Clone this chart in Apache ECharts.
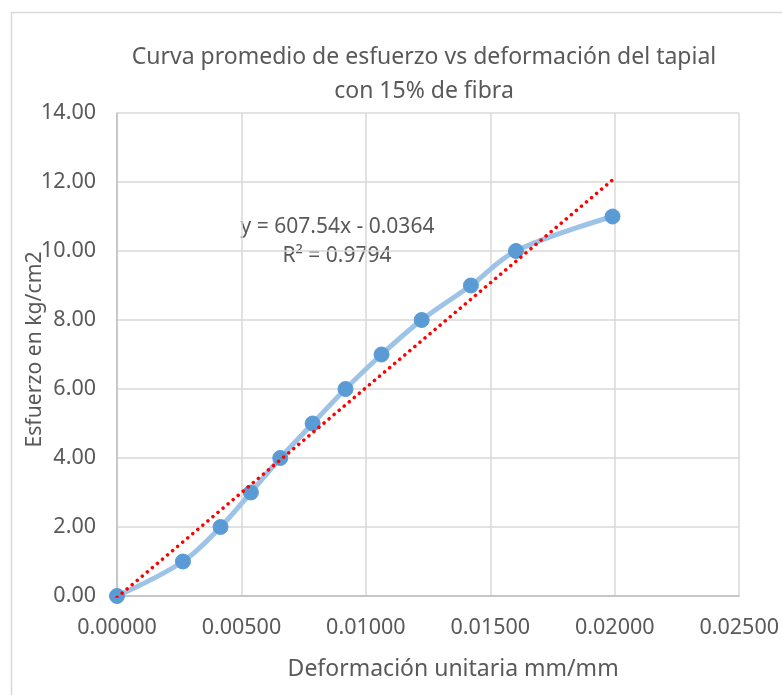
<!DOCTYPE html>
<html>
<head>
<meta charset="utf-8">
<script src="https://cdn.jsdelivr.net/npm/echarts@6/dist/echarts.min.js"></script>
<style>html,body{margin:0;padding:0;background:#fff;}#c{width:782px;height:695px;}</style>
</head>
<body>
<div id="c"></div>
<script>
// Data
var strainX = [0, 0.00265, 0.00416, 0.00538, 0.00656, 0.00786, 0.00918, 0.01063, 0.01224, 0.01422, 0.01603, 0.01991];
var stressY = [0, 1, 2, 3, 4, 5, 6, 7, 8, 9, 10, 11];
var trendX = [0, 0.01991];
var trendY = [-0.04, 12.06];
var titleLines = ['Curva promedio de esfuerzo vs deformación del tapial', 'con 15% de fibra'];
var xAxisTitle = 'Deformación unitaria mm/mm';
var yAxisTitle = 'Esfuerzo en kg/cm2';
var eqLines = ['y = 607.54x - 0.0364', 'R² = 0.9794'];

var FONT = '"Noto Sans", "Open Sans", sans-serif';
var TXT = '#595959';

var chart = echarts.init(document.getElementById('c'), null, {renderer: 'canvas'});
var mainPts = strainX.map(function (x, i) { return [x, stressY[i]]; });
var trendPts = trendX.map(function (x, i) { return [x, trendY[i]]; });

chart.setOption({
  backgroundColor: '#ffffff',
  animation: false,
  title: {
    text: titleLines.join('\n'),
    left: 419, top: 35, textAlign: 'center',
    textStyle: {fontFamily: FONT, fontSize: 23, fontWeight: 'normal', color: TXT, lineHeight: 34}
  },
  grid: {left: 117, right: 42, top: 113, bottom: 99, containLabel: false},
  xAxis: {
    type: 'value', min: 0, max: 0.025, interval: 0.005,
    name: xAxisTitle, nameLocation: 'middle', nameGap: 62, nameMoveOverlap: false,
    nameTextStyle: {fontFamily: FONT, fontSize: 23, color: TXT, padding: [0, 0, 0, 50]},
    axisLine: {show: true, lineStyle: {color: '#bfbfbf', width: 1.5}},
    axisTick: {show: false},
    splitLine: {show: true, lineStyle: {color: '#d9d9d9', width: 1.5}},
    axisLabel: {fontFamily: FONT, fontSize: 21.5, color: TXT, margin: 21,
      formatter: function (v) { return v.toFixed(5); }}
  },
  yAxis: {
    type: 'value', min: 0, max: 14, interval: 2,
    name: yAxisTitle, nameLocation: 'middle', nameGap: 72, nameRotate: 90, nameMoveOverlap: false,
    nameTextStyle: {fontFamily: FONT, fontSize: 21.2, color: TXT, padding: [0, 0, 0, 10]},
    axisLine: {show: true, lineStyle: {color: '#bfbfbf', width: 1.5}},
    axisTick: {show: false},
    splitLine: {show: true, lineStyle: {color: '#d9d9d9', width: 1.5}},
    axisLabel: {fontFamily: FONT, fontSize: 21.5, color: TXT, margin: 21,
      formatter: function (v) { return v.toFixed(2); }}
  },
  series: [
    {
      type: 'line', data: mainPts, smooth: 0.35,
      symbol: 'circle', symbolSize: 15,
      lineStyle: {color: '#9dc3e6', width: 5},
      itemStyle: {color: '#5b9bd5', borderColor: '#5b9bd5'},
      z: 2
    },
    {
      type: 'line', data: trendPts, symbol: 'none',
      lineStyle: {color: '#ff0000', width: 3.5, type: [0.1, 6.5], cap: 'round'},
      z: 3
    }
  ],
  graphic: [
    {type: 'rect', shape: {x: 11.5, y: 12.5, width: 800, height: 700},
     style: {fill: 'none', stroke: '#d9d9d9', lineWidth: 1.5}, silent: true, z: -1},
    {type: 'text', x: 337.5, y: 227,
     style: {text: eqLines[0], font: '21px "Noto Sans", sans-serif', fill: TXT, textAlign: 'center', textVerticalAlign: 'middle'}},
    {type: 'text', x: 337, y: 256,
     style: {text: eqLines[1], font: '21px "Noto Sans", sans-serif', fill: TXT, textAlign: 'center', textVerticalAlign: 'middle'}}
  ]
});
</script>
</body>
</html>
